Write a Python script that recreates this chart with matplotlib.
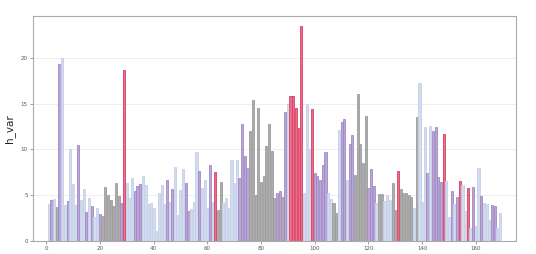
import matplotlib
matplotlib.use("Agg")
import matplotlib.pyplot as plt

values = [
    4.0, 4.45, 4.55, 3.75, 19.3, 20.0, 3.9, 4.4, 10.1, 6.2,
    3.9, 10.5, 4.5, 5.7, 3.2, 4.7, 3.8, 2.6, 3.6, 3.0,
    2.7, 5.9, 5.0, 4.5, 3.8, 6.3, 4.9, 4.1, 18.65, 6.3,
    4.7, 6.9, 5.5, 6.05, 6.2, 7.1, 6.1, 4.0, 4.1, 3.65,
    1.1, 5.3, 6.1, 4.0, 6.7, 4.3, 5.65, 8.1, 2.85, 5.6,
    7.85, 6.3, 3.3, 3.5, 4.3, 9.7, 7.7, 5.8, 6.7, 3.6,
    8.25, 4.3, 7.5, 3.4, 6.4, 4.1, 4.7, 3.65, 8.9, 6.3,
    8.9, 6.9, 12.8, 9.3, 8.0, 12.0, 15.4, 5.0, 14.5, 6.5,
    7.1, 10.4, 12.8, 9.85, 4.75, 5.3, 5.5, 4.85, 14.05, 15.0,
    15.8, 15.8, 14.55, 12.3, 23.45, 5.2, 14.95, 10.0, 14.45, 7.4,
    7.1, 6.7, 8.3, 9.7, 5.2, 4.6, 4.2, 3.1, 12.1, 13.0,
    13.35, 6.7, 10.6, 11.6, 7.2, 16.1, 10.6, 8.5, 13.7, 5.8,
    7.85, 6.05, 4.1, 5.15, 5.1, 4.4, 5.0, 4.5, 6.3, 3.4,
    7.65, 5.65, 5.3, 5.3, 5.05, 4.85, 3.65, 13.5, 17.3, 4.3,
    12.45, 7.4, 12.6, 12.0, 12.45, 7.0, 6.5, 11.7, 6.6, 2.65,
    5.45, 4.0, 4.8, 6.6, 6.1, 3.3, 5.75, 1.4, 5.95, 1.6,
    8.0, 4.95, 4.1, 4.05, 2.3, 3.9, 3.8, 1.4, 3.05,
]

groups = (
    "LPLGPLLPLL" "LPLLPLPLLP" "GGGGGGGPRL" "LLPPPLLLLL"
    "LLLLPLPLLL" "LPPLLLPLLL" "PLRGGLLLLL" "LPPPPGGGGG"
    "GGGGGPPGPL" "RRRRRLLLRP" "PPPPLLGGLP" "PLPPGGGGGP"
    "PPLGGLLLGG" "RGGGGGLGLL" "LPLPPPPRLL" "PLPRLLRLPL"
    "LPLLLPPLL"
)

x_positions = list(range(1, len(values) + 1))
x_ticks = [0, 20, 40, 60, 80, 100, 120, 140, 160]
y_ticks = [0, 5, 10, 15, 20]

fill_colors = {"L": "#d3dcef", "P": "#b9a5d6", "G": "#acacac", "R": "#e86f8b"}
edge_colors = {"L": "#c4d0ea", "P": "#a089c6", "G": "#9c9c9c", "R": "#dc3e62"}

fig = plt.figure(figsize=(5.36, 2.54), dpi=100)
ax = fig.add_axes([0.061, 0.051, 0.902, 0.887])

ax.bar(x_positions, values, width=0.8,
       color=[fill_colors[g] for g in groups],
       edgecolor=[edge_colors[g] for g in groups],
       linewidth=0.6, zorder=2)

ax.set_xlim(-5, 175)
ax.set_ylim(0, 24.6)
ax.set_xticks(x_ticks)
ax.set_yticks(y_ticks)
ax.tick_params(labelsize=4, length=2, width=0.4, pad=1.5, colors="#555555")
ax.yaxis.grid(True, color="#ebebeb", linewidth=0.6, zorder=0)
ax.set_axisbelow(True)
for s in ax.spines.values():
    s.set_color("#aaaaaa")
    s.set_linewidth(0.8)
ax.set_ylabel("h_var", fontsize=7.5, labelpad=4, color="#222222")

fig.savefig("out.png", dpi=100)
